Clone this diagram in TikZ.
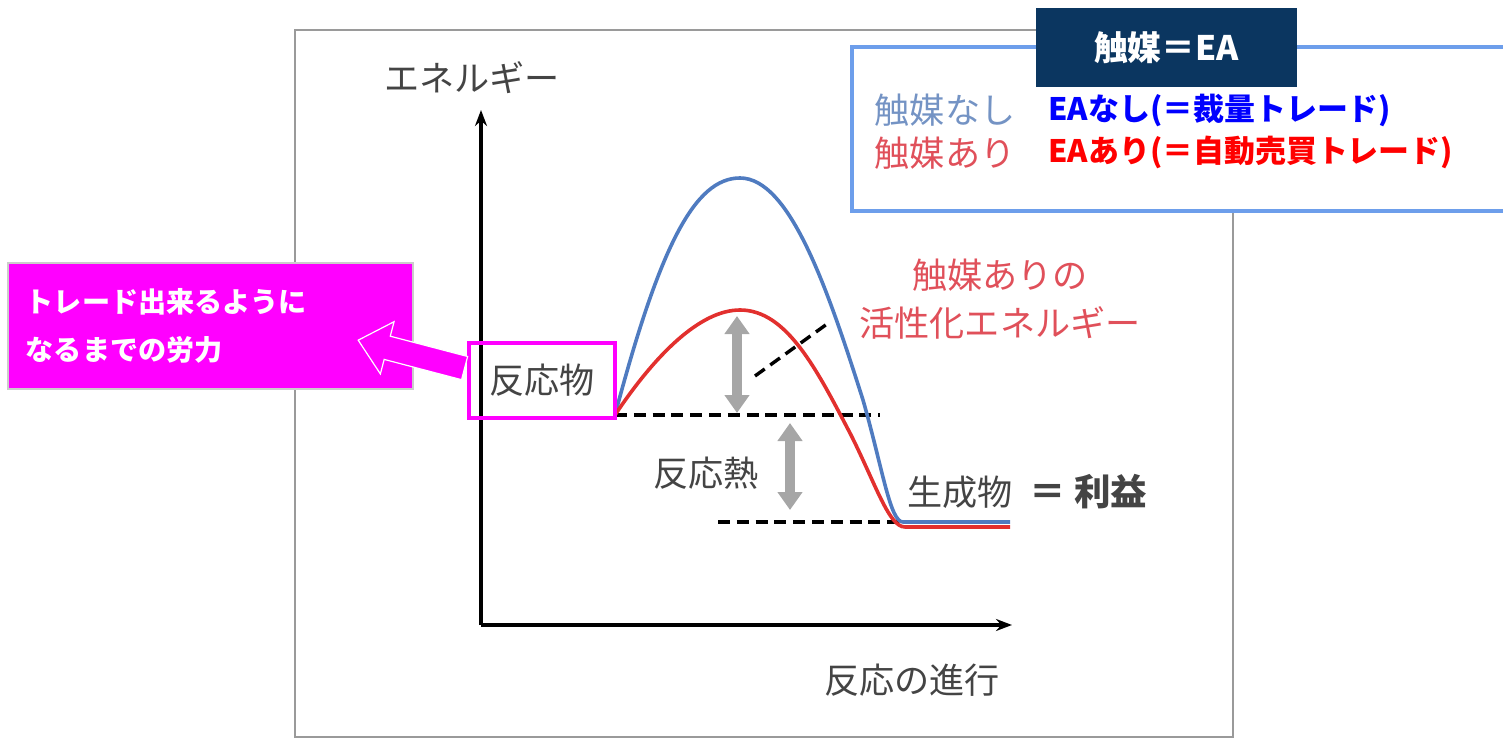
\documentclass[tikz,border=0pt]{standalone}
\usepackage{fontspec}
\setmainfont{Noto Sans CJK JP}
\usetikzlibrary{positioning,arrows.meta}
\definecolor{labelgray}{HTML}{444444}
\definecolor{framegray}{HTML}{9A9A9A}
\definecolor{curveblue}{HTML}{4F7BC0}
\definecolor{curvered}{HTML}{E2302E}
\definecolor{legendblue}{HTML}{6D9EEB}
\definecolor{navy}{HTML}{0B3660}
\definecolor{catred}{HTML}{E0505A}
\definecolor{catblue}{HTML}{7493C4}
\definecolor{hotpink}{RGB}{255,0,255}
\tikzset{gray label/.style={text=labelgray,font=\fontsize{25}{30}\selectfont,inner sep=1pt},
  level line/.style={dash pattern=on 3mm off 1.7mm,line width=0.85mm},
  gap arrow/.style={draw=black!35,line width=2.6mm,{Triangle[width=6mm,length=4.5mm]}-{Triangle[width=6mm,length=4.5mm]}},
  ea line/.style={font=\bfseries\fontsize{22}{26}\selectfont,inner sep=0pt,anchor=west},}

\begin{document}
\begin{tikzpicture}[x=0.25mm,y=-0.25mm]
       \useasboundingbox (0,0) rectangle (1503,738);
       % frame of the graph
       \draw[framegray,line width=0.5mm] (1036,30) -- (295,30) -- (295,737) -- (1233,737) -- (1233,211);
       
       % axes
       \coordinate (origin) at (481,625);
       \coordinate (ytop) at (481,110);
       \coordinate (xend) at (1012,625);
       \draw[line width=0.8mm,-{Stealth[length=4mm,width=3mm]}] (origin) -- (ytop);
       \draw[line width=0.8mm,-{Stealth[length=4mm,width=3mm]}] (origin) -- (xend);
       \node[gray label] (energy) at (472,78) {エネルギー};
       \node[gray label] (progress) at (912,680) {反応の進行};
       
       % levels
       \coordinate (start) at (615,415);
       \coordinate (start end) at (880,415);
       \coordinate (prod begin) at (718,522);
       \coordinate (end) at (903,522);
       \draw[level line] (start) -- (start end);
       \draw[level line] (prod begin) -- (end);
       
       % curves
       \draw[curveblue,line width=0.9mm] (start) .. controls (660,245) and (695,178) .. (740,178)
             .. controls (790,178) and (828,290) .. (863,400)
             .. controls (883,470) and (890,522) .. (end) -- (1010,522);
       \draw[curvered,line width=0.9mm] (start) .. controls (655,355) and (700,310) .. (740,310)
             .. controls (787,310) and (817,370) .. (851,435)
             .. controls (876,485) and (889,527) .. (905,527) -- (1010,527);
       
       \draw[gap arrow] (737,316) -- (737,413);
       \draw[gap arrow] (790,423) -- (790,510);
       \node[gray label] (heat) at (706,473) {反応熱};
       
       \coordinate (lead a) at (755,376);
       \coordinate (lead b) at (827,324);
       \draw[level line] (lead a) -- (lead b);
       \node[text=catred,font=\fontsize{25}{34}\selectfont,align=center] (catlabel) at (1000,299) {触媒ありの\\活性化エネルギー};
       
       \node[gray label] (product) at (960,492) {生成物};
       \node[text=labelgray,font=\bfseries\fontsize{26}{30}\selectfont,right=2.5mm of product] (profit) {＝ 利益};
       
       % effort box and arrow
       \node[fill=hotpink,draw=black!20,line width=0.4mm,text=white,font=\bfseries\fontsize{20}{34}\selectfont,
             align=left,text width=92.25mm,inner xsep=4.5mm,minimum height=31.5mm,anchor=north west] (effort) at (7,262)
             {トレード出来るように\\なるまでの労力};
       \node[gray label,draw=hotpink,line width=1mm,minimum width=36.5mm,minimum height=18.75mm] (reactant) at (542,380.5) {反応物};
       \begin{scope}[shift={([xshift=-0.6mm,yshift=3.1mm]reactant.west)},x=0.25mm,y=0.25mm,rotate=165.3]
         \filldraw[fill=hotpink,draw=white,line width=0.3mm] (0,-12) -- (80,-12) -- (80,-27) -- (110,0) -- (80,27) -- (80,12) -- (0,12) -- cycle;
       \end{scope}
       
       % legend
       \draw[legendblue,line width=1.2mm] (1510,47) -| (852,211) -- (1510,211);
       \node[fill=navy,text=white,font=\bfseries\fontsize{24}{28}\selectfont,minimum width=65.25mm,minimum height=19.75mm] (title) at (1166.5,47.5) {触媒＝EA};
       \node[text=catblue,font=\fontsize{25}{30}\selectfont,inner sep=0pt] (nocat) at (945,110) {触媒なし};
       \node[text=catred,font=\fontsize{25}{30}\selectfont,inner sep=0pt] (withcat) at (945,153) {触媒あり};
       \node[ea line,text=blue] (noea) at (1048,110) {EAなし(＝裁量トレード)};
       \node[ea line,text=red] (withea) at (1048,152) {EAあり(＝自動売買トレード)};
\end{tikzpicture}
\end{document}
